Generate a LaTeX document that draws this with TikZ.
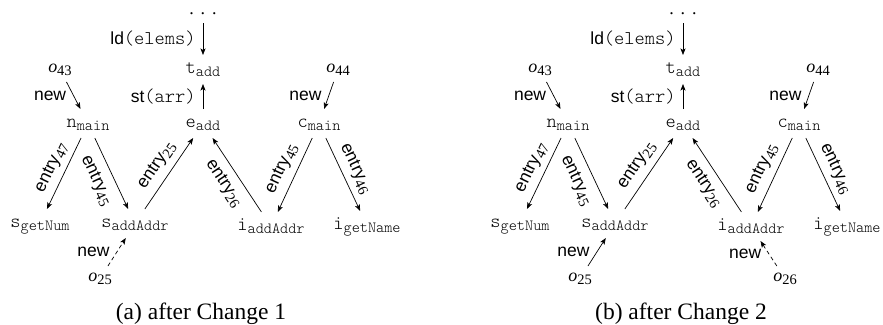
\documentclass[tikz,border=0pt]{standalone}
\usepackage{fontspec}
\setmainfont{Liberation Serif}
\setsansfont{Liberation Sans}
\setmonofont{Latin Modern Mono Light}
\usetikzlibrary{arrows.meta}
\newcommand\vr[2]{\texttt{#1}\raisebox{-3.5pt}{\fontsize{15.5}{15.5}\selectfont\ttfamily #2}}
\newcommand\ttl[1]{{\fontsize{19.5}{20}\selectfont\ttfamily #1}}
\newcommand\ob[1]{\textit{o}\raisebox{-3pt}{\fontsize{14.5}{14.5}\selectfont\rmfamily #1}}
\newcommand\ent[1]{\textsf{entry}\raisebox{-3.5pt}{\fontsize{14.5}{14.5}\selectfont\rmfamily #1}}
\tikzset{
  vn/.style={font=\ttfamily\fontsize{19.5}{20}\selectfont, anchor=base,
    text height=11pt, text depth=4pt, inner xsep=2pt, inner ysep=7pt, outer sep=0pt},
  dotsn/.style={font=\rmfamily\fontsize{18}{20}\selectfont, anchor=base,
    text height=3pt, text depth=0pt, inner xsep=2pt, inner ysep=9pt, outer sep=0pt},
  obn/.style={font=\rmfamily\fontsize{18}{20}\selectfont, anchor=base,
    text height=8pt, text depth=3pt, inner xsep=2pt, inner ysep=7pt, outer sep=0pt},
  lab/.style={font=\sffamily\fontsize{17.5}{20}\selectfont, inner xsep=7pt, inner ysep=2pt},
  elab/.style={font=\sffamily\fontsize{17.5}{20}\selectfont, sloped, inner sep=3pt},
  ar/.style={-{Stealth[length=6.5pt,width=5pt,inset=1.5pt]}, line width=0.7pt},
  dsh/.style={dash pattern=on 4pt off 3pt},
  captext/.style={font=\rmfamily\fontsize{23.5}{26}\selectfont, anchor=base, inner sep=0pt}
}
\newcommand\panelcore{%
  \node[dotsn] (dd) at (203,14) {.\kern7pt.\kern7pt.};
  \node[vn] (t) at (203,73) {\vr{t}{add}};
  \node[vn] (e) at (203,127) {\vr{e}{add}};
  \node[vn] (n) at (88,127) {\vr{n}{main}};
  \node[vn] (c) at (319,127) {\vr{c}{main}};
  \node[vn] (sg) at (40,227) {\vr{s}{getNum}};
  \node[vn] (sa) at (135,227) {\vr{s}{addAddr}};
  \node[vn] (ia) at (271,230) {\vr{i}{addAddr}};
  \node[vn] (ig) at (367,229) {\vr{i}{getName}};
  \node[obn] (o43) at (60,72) {\ob{43}};
  \node[obn] (o44) at (338,72) {\ob{44}};
  \node[obn] (o25) at (100,281) {\ob{25}};
  \draw[ar] (dd) -- node[lab,left] {ld\ttl{(elems)}} (t);
  \draw[ar] (e) -- node[lab,left] {st\ttl{(arr)}} (t);
  \draw[ar] (o43) -- node[lab,left] {new} (n);
  \draw[ar] (o44) -- node[lab,left] {new} (c);
  \draw[ar] (n) -- node[elab,above=3pt] {\ent{47}} (sg);
  \draw[ar] (n) -- node[elab,below=6pt] {\ent{45}} (sa);
  \draw[ar] (sa) -- node[elab,above=4pt] {\ent{25}} (e);
  \draw[ar] (ia) -- node[elab,below=5pt] {\ent{26}} (e);
  \draw[ar] (c) -- node[elab,above=4pt] {\ent{45}} (ia);
  \draw[ar] (c) -- node[elab,above=3pt] {\ent{46}} (ig);
}
\begin{document}
\begin{tikzpicture}[x=1pt,y=-1pt]
  \fill[white] (0,0) rectangle (883,324);
  \useasboundingbox (0,0) rectangle (883,324);
  \begin{scope}[name prefix=a-]
    \panelcore
    \draw[ar,dsh] (o25) -- node[lab,left] {new} (sa);
    \node[captext] (capa) at (201,319) {(a) after Change 1};
  \end{scope}
  \begin{scope}[xshift=480pt, name prefix=b-]
    \panelcore
    \draw[ar] (o25) -- node[lab,left] {new} (sa);
    \node[obn] (o26) at (305,281) {\ob{26}};
    \draw[ar,dsh] (o26) -- node[lab,left] {new} (ia);
    \node[captext] (capb) at (201,319) {(b) after Change 2};
  \end{scope}
\end{tikzpicture}
\end{document}
